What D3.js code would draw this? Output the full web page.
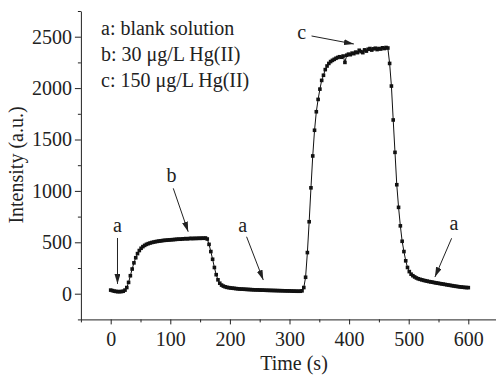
<!DOCTYPE html>
<html>
<head>
<meta charset="utf-8">
<script src="https://cdn.jsdelivr.net/npm/d3@7"></script>
<style>
  body { margin: 0; background: #fff; }
  text { font-family: "Liberation Serif", "Times New Roman", serif; }
</style>
</head>
<body>
<svg id="chart" width="496" height="375"></svg>
<script>
// time (s) of each sample
var times = [
  0, 3, 6, 9, 12, 15, 18, 21, 24, 27, 30, 33, 36, 39, 42, 45, 48, 51, 54, 57,
  60, 63, 66, 69, 72, 75, 78, 81, 84, 87, 90, 93, 96, 99, 102, 105, 108, 111, 114, 117,
  120, 123, 126, 129, 132, 135, 138, 141, 144, 147, 150, 153, 156, 159, 162, 165, 168, 171, 174, 177,
  180, 183, 186, 189, 192, 195, 198, 201, 204, 207, 210, 213, 216, 219, 222, 225, 228, 231, 234, 237,
  240, 243, 246, 249, 252, 255, 258, 261, 264, 267, 270, 273, 276, 279, 282, 285, 288, 291, 294, 297,
  300, 303, 306, 309, 312, 315, 318, 321, 324, 327, 330, 333, 336, 339, 342, 345, 348, 351, 354, 357,
  360, 363, 366, 369, 372, 375, 378, 381, 384, 387, 390, 393, 396, 399, 402, 405, 408, 411, 414, 417,
  420, 423, 426, 429, 432, 435, 438, 441, 444, 447, 450, 453, 456, 459, 462, 465, 468, 471, 474, 477,
  480, 483, 486, 489, 492, 495, 498, 501, 504, 507, 510, 513, 516, 519, 522, 525, 528, 531, 534, 537,
  540, 543, 546, 549, 552, 555, 558, 561, 564, 567, 570, 573, 576, 579, 582, 585, 588, 591, 594, 597,
  600
];

// intensity (a.u.)
var intensity = [
  35, 30, 25, 22, 20, 20, 21, 24, 35,
  60, 110, 175, 240, 300, 350, 390, 420, 442, 458,
  470, 480, 487, 493, 498, 502, 506, 509, 512, 514,
  517, 519, 520, 522, 523, 525, 526, 528, 529, 531,
  530, 533, 534, 536, 534, 537, 538, 536, 539, 537,
  540, 538, 541, 539, 542, 532, 480, 410, 335, 255,
  185, 135, 102, 84, 74, 67, 62, 59,
  56, 54, 52, 50, 48, 46, 45, 44, 43, 42,
  41, 40, 39, 38, 37, 37, 36, 35, 35, 34,
  33, 33, 32, 32, 31, 31, 30, 30, 29, 29,
  28, 28, 27, 27, 26, 25, 25, 24, 24, 24,
  28, 60, 160, 400, 700, 1030, 1340, 1590, 1770, 1890,
  1990, 2075, 2125, 2180, 2215, 2240, 2258, 2270, 2280, 2290,
  2298, 2305, 2300, 2312, 2250, 2320, 2330, 2325, 2340, 2335,
  2350, 2345, 2368, 2355, 2345, 2372, 2360, 2378, 2385, 2370,
  2382, 2388, 2375, 2385, 2380, 2392, 2385, 2395, 2390,
  2240, 2020, 1690, 1375, 1060, 840, 660, 510, 410, 320,
  255, 215, 190, 175, 163, 153, 145, 140, 135, 130,
  126, 122, 118, 115, 112, 108, 105, 102, 99, 96,
  93, 90, 87, 84, 81, 78, 75, 72, 70, 67,
  65, 63, 61, 60, 59
];

var xTicks = [0, 100, 200, 300, 400, 500, 600];
var xMinorTicks = [-50, 50, 150, 250, 350, 450, 550, 650];
var yTicks = [0, 500, 1000, 1500, 2000, 2500];
var yMinorTicks = [-250, 250, 750, 1250, 1750, 2250, 2750];

var legendLines = ['a: blank solution', 'b: 30 \u03bcg/L Hg(II)', 'c: 150 \u03bcg/L Hg(II)'];

// labels with arrows, in data units: text anchor, arrow start, arrow tip
var noteLabels = ['a', 'b', 'a', 'c', 'a'];
var noteText = [[11.4, 600], [102, 1082], [221.5, 605], [320.5, 2478], [576, 623]];
var noteFrom = [[11.4, 542], [105, 1025], [228, 554], [337, 2507], [572, 539]];
var noteTo = [[11.4, 95], [130, 603], [256, 133], [408, 2429], [544, 162]];

var serif = '"Liberation Serif", "Times New Roman", serif';
var svg = d3.select('#chart');

var x = d3.scaleLinear().domain([-50, 650]).range([80.9, 498.1]);
var y = d3.scaleLinear().domain([-250, 2750]).range([319.4, 11]);

var data = times.map(function (t, i) { return { t: t, v: intensity[i] }; });

// axes
svg.append('g')
    .attr('transform', 'translate(0,319.4)')
    .call(d3.axisBottom(x).tickValues(xTicks).tickFormat(d3.format('d'))
        .tickSizeInner(5).tickSizeOuter(0).tickPadding(7));
svg.append('g')
    .attr('transform', 'translate(0,319.4)')
    .call(d3.axisBottom(x).tickValues(xMinorTicks).tickSizeInner(3).tickSizeOuter(0).tickFormat(''))
    .select('.domain').remove();

svg.append('g')
    .attr('transform', 'translate(80.9,0)')
    .call(d3.axisLeft(y).tickValues(yTicks).tickFormat(d3.format('d'))
        .tickSizeInner(6).tickSizeOuter(0).tickPadding(3));
svg.append('g')
    .attr('transform', 'translate(80.9,0)')
    .call(d3.axisLeft(y).tickValues(yMinorTicks).tickSizeInner(3).tickSizeOuter(0).tickFormat(''))
    .select('.domain').remove();

svg.selectAll('g')
    .attr('font-family', serif)
    .attr('font-size', 20);
svg.selectAll('.tick text').attr('fill', '#222');
svg.selectAll('.domain, .tick line').attr('stroke', '#222');

// axis titles
svg.append('text')
    .attr('x', 294)
    .attr('y', 370)
    .attr('text-anchor', 'middle')
    .style('font-size', '20px')
    .attr('fill', '#222')
    .text('Time (s)');

svg.append('text')
    .attr('transform', 'translate(23,165) rotate(-90)')
    .attr('text-anchor', 'middle')
    .style('font-size', '20px')
    .attr('fill', '#222')
    .text('Intensity (a.u.)');

// curve
var drawLine = d3.line()
    .x(function (d) { return x(d.t); })
    .y(function (d) { return y(d.v); });

svg.append('path')
    .datum(data)
    .attr('d', drawLine)
    .attr('fill', 'none')
    .attr('stroke', '#111')
    .attr('stroke-width', 1);

var ms = 3.6;
svg.append('g')
    .selectAll('rect')
    .data(data)
    .enter()
    .append('rect')
    .attr('x', function (d) { return x(d.t) - ms / 2; })
    .attr('y', function (d) { return y(d.v) - ms / 2; })
    .attr('width', ms)
    .attr('height', ms)
    .attr('fill', '#111');

// legend
svg.append('g')
    .selectAll('text')
    .data(legendLines)
    .enter()
    .append('text')
    .attr('x', 101)
    .attr('y', function (d, i) { return 35 + i * 26.2; })
    .style('font-size', '20px')
    .attr('fill', '#222')
    .text(function (d) { return d; });

// arrows
svg.append('defs').append('marker')
    .attr('id', 'head')
    .attr('markerUnits', 'userSpaceOnUse')
    .attr('viewBox', '0 0 10 6')
    .attr('refX', 10)
    .attr('refY', 3)
    .attr('markerWidth', 10)
    .attr('markerHeight', 6)
    .attr('orient', 'auto')
    .append('path')
    .attr('d', 'M0,0L10,3L0,6Z')
    .attr('fill', '#222');

var notes = svg.append('g');
noteLabels.forEach(function (lab, i) {
    notes.append('text')
        .attr('x', x(noteText[i][0]))
        .attr('y', y(noteText[i][1]))
        .attr('text-anchor', 'middle')
        .style('font-size', '20px')
        .attr('fill', '#222')
        .text(lab);
    notes.append('line')
        .attr('x1', x(noteFrom[i][0]))
        .attr('y1', y(noteFrom[i][1]))
        .attr('x2', x(noteTo[i][0]))
        .attr('y2', y(noteTo[i][1]))
        .attr('stroke', '#222')
        .attr('stroke-width', 1)
        .attr('marker-end', 'url(#head)');
});
</script>
</body>
</html>
